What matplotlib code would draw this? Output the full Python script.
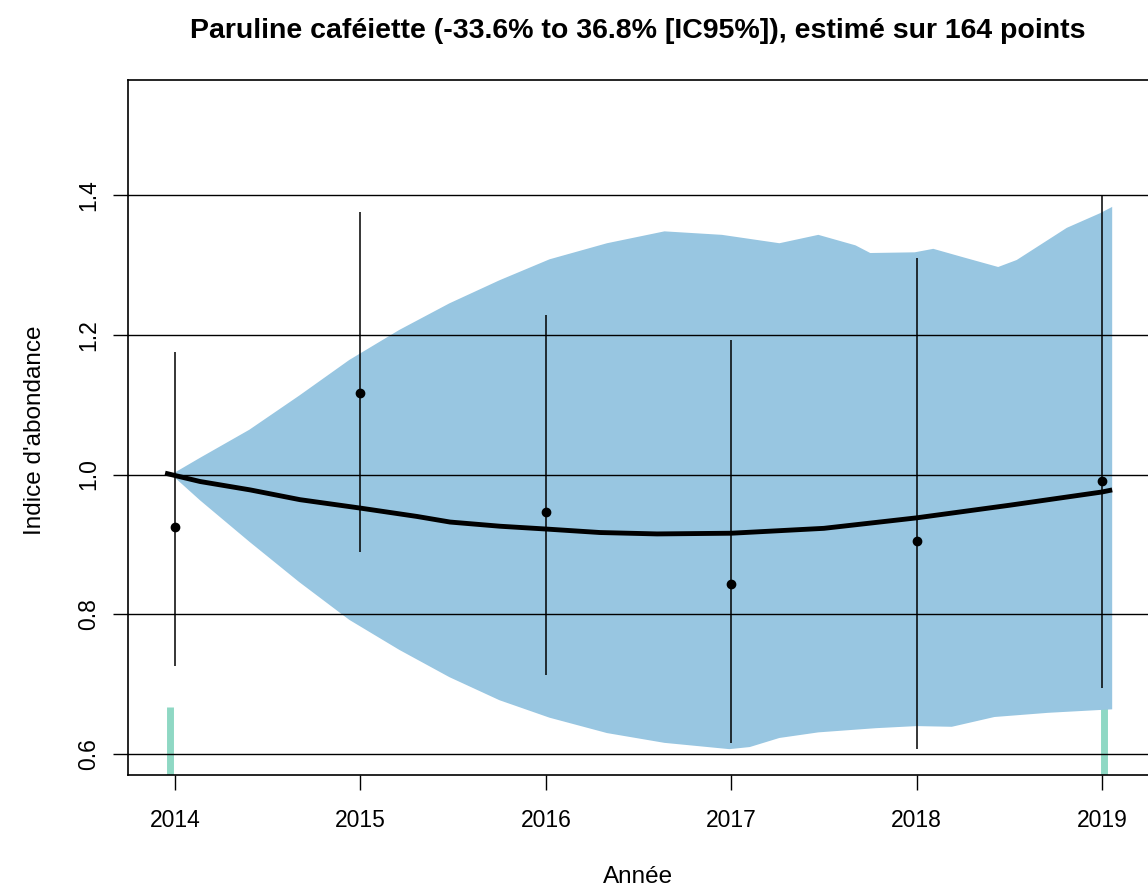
import numpy as np
import matplotlib
matplotlib.use("Agg")
import matplotlib.pyplot as plt

plt.rcParams['font.family'] = ['Liberation Sans', 'DejaVu Sans']

title = "Paruline caféiette (-33.6% to 36.8% [IC95%]), estimé sur 164 points"
xlabel = "Année"
ylabel = "Indice d'abondance"

# yearly estimates with error bars
years = [2014, 2015, 2016, 2017, 2018, 2019]
point_est = [0.925, 1.117, 0.946, 0.843, 0.905, 0.991]
err_low = [0.726, 0.889, 0.713, 0.616, 0.607, 0.694]
err_high = [1.175, 1.376, 1.228, 1.192, 1.310, 1.399]

# confidence band (upper boundary)
band_up_x = [2013.98, 2014.135, 2014.40, 2014.67, 2014.94, 2015.21, 2015.48, 2015.75, 2016.02,
             2016.33, 2016.64, 2016.95, 2017.26, 2017.47, 2017.67, 2017.75, 2017.99,
             2018.09, 2018.25, 2018.44, 2018.54, 2018.81, 2018.99, 2019.055]
band_up_y = [1.000, 1.024, 1.064, 1.113, 1.164, 1.207, 1.245, 1.278, 1.308,
             1.331, 1.348, 1.343, 1.331, 1.343, 1.328, 1.317, 1.318,
             1.323, 1.311, 1.297, 1.307, 1.353, 1.374, 1.383]
# confidence band (lower boundary)
band_lo_x = [2013.98, 2014.135, 2014.40, 2014.67, 2014.94, 2015.21, 2015.48, 2015.75,
             2016.02, 2016.33, 2016.64, 2016.99, 2017.10, 2017.26, 2017.47, 2017.78,
             2018.00, 2018.19, 2018.42, 2018.71, 2019.055]
band_lo_y = [1.000, 0.963, 0.904, 0.846, 0.792, 0.749, 0.710, 0.677,
             0.652, 0.630, 0.616, 0.607, 0.610, 0.623, 0.631, 0.637,
             0.640, 0.639, 0.653, 0.659, 0.664]

# smoothed trend
trend_x = [2013.946, 2014.135, 2014.405, 2014.674, 2014.998, 2015.305, 2015.483, 2015.753,
           2016.001, 2016.292, 2016.6, 2017.0, 2017.5, 2018.0, 2018.5, 2019.0, 2019.055]
trend_y = [1.002, 0.990, 0.978, 0.964, 0.952, 0.940, 0.932, 0.926,
           0.922, 0.917, 0.915, 0.916, 0.923, 0.938, 0.956, 0.975, 0.978]

# rug marks (green)
rug_x = [2013.97, 2019.01]
rug_top = [0.667, 0.667]

yticks = [0.6, 0.8, 1.0, 1.2, 1.4]
ytick_labels = ["0.6", "0.8", "1.0", "1.2", "1.4"]
xticks = years
xtick_labels = [str(y) for y in years]

fig = plt.figure(figsize=(11.48, 8.90), dpi=100)
W, H = 1148, 890
ax = fig.add_axes([128 / W, (H - 775) / H, (1150 - 128) / W, (775 - 80) / H])
ax.set_xlim(2013.746, 2019.259)
ax.set_ylim(0.570, 1.5646)

# rug marks
for x, t in zip(rug_x, rug_top):
    ax.plot([x, x], [0.570, t], color="#8fd8c4", lw=5, solid_capstyle="butt", zorder=1)

# band
poly_x = list(band_up_x) + list(band_lo_x[::-1])
poly_y = list(band_up_y) + list(band_lo_y[::-1])
ax.fill(poly_x, poly_y, color="#98c6e1", lw=0, zorder=2)

# horizontal reference lines
for yv in yticks:
    ax.axhline(yv, color="black", lw=1.0, zorder=3)

# trend
ax.plot(trend_x, trend_y, color="black", lw=3.5, zorder=5, solid_capstyle="butt",
        solid_joinstyle="round")

# error bars and points
ax.vlines(years, err_low, err_high, color="black", lw=1.1, zorder=4)
ax.plot(years, point_est, "o", color="black", ms=6, zorder=6)

ax.set_xticks(xticks)
ax.set_xticklabels(xtick_labels, fontsize=16.5)
ax.set_yticks(yticks)
ax.set_yticklabels(ytick_labels, fontsize=16.5, rotation=90, va="center")
ax.tick_params(axis="both", length=10.8, width=1.0, direction="out")
ax.tick_params(axis="x", pad=14)
ax.tick_params(axis="y", pad=9)

for s in ax.spines.values():
    s.set_linewidth(1.2)

fig.text(638 / W, 1 - 38 / H, title, ha="center", va="baseline", fontsize=20.5, fontweight="bold")
fig.text(638 / W, 1 - 877 / H, xlabel, ha="center", va="center", fontsize=17.5)
fig.text(35 / W, 1 - 430 / H, ylabel, ha="center", va="center", fontsize=17.5, rotation=90)

fig.savefig("out.png", dpi=100)
